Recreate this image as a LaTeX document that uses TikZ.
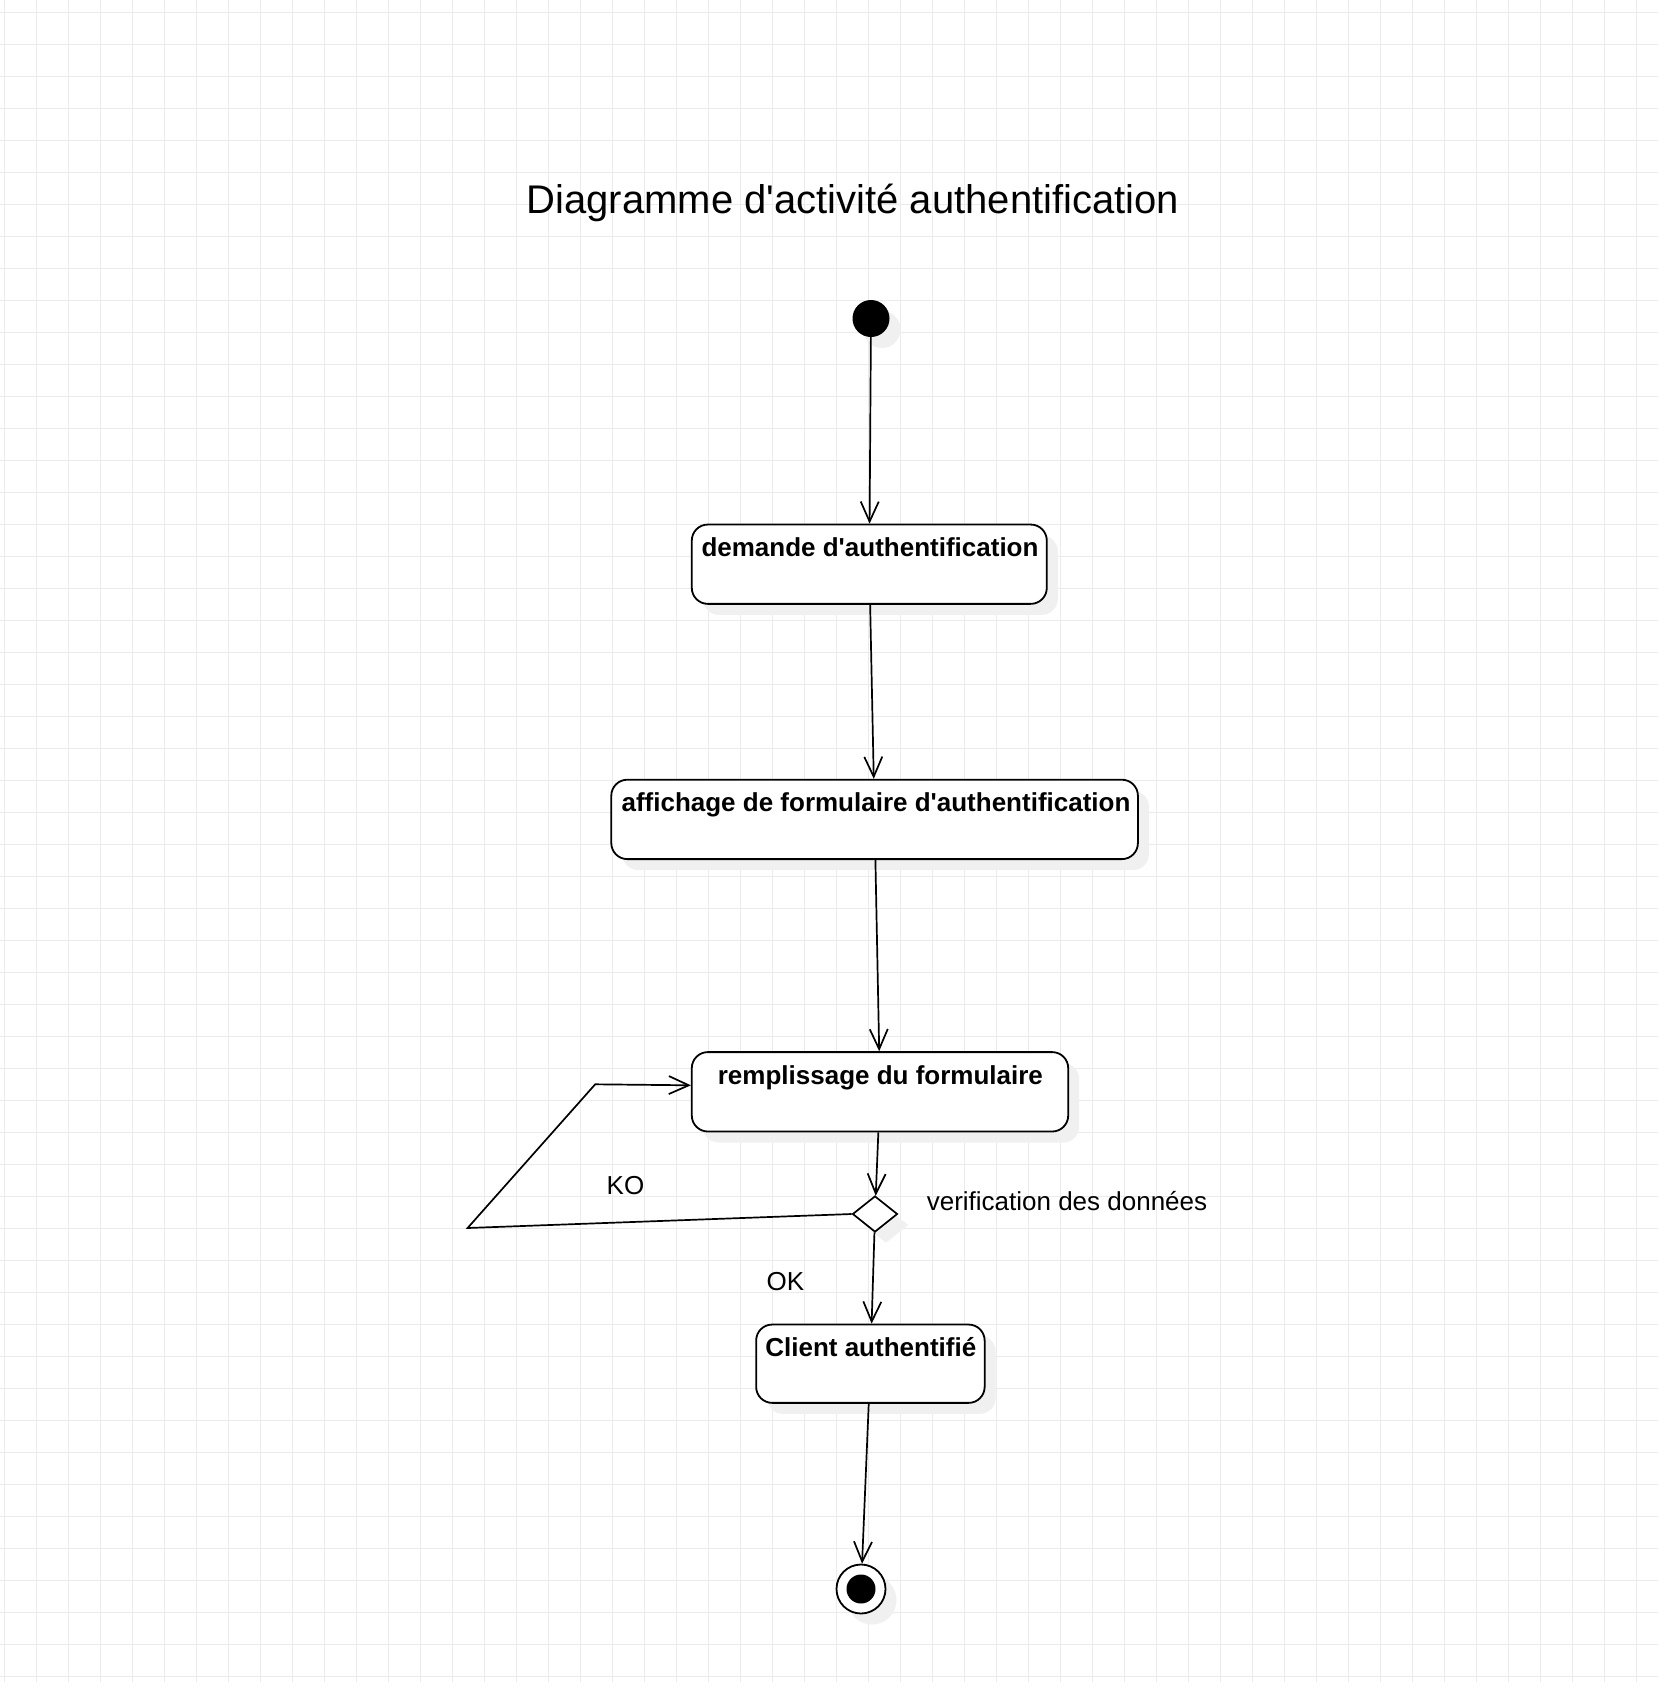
\documentclass[tikz,border=0pt]{standalone}
\usepackage{fontspec}
\setmainfont{Liberation Sans}
\usetikzlibrary{arrows.meta,shapes.geometric,shadows}
\definecolor{gridc}{HTML}{EBEBEB}
\definecolor{shad}{HTML}{F0F0F0}
\newcommand{\apos}{\textquotesingle}
\begin{document}
\begin{tikzpicture}[x=1pt,y=-1pt,
  shd/.style={drop shadow={shadow xshift=11pt, shadow yshift=-11pt, fill=shad, opacity=1}},
  actbox/.style={draw, line width=1.8pt, rounded corners=16pt, fill=white, inner sep=0pt, shd},
  arr/.style={line width=1.7pt, -{Straight Barb[length=20pt,width=18pt,line width=1.7pt]}},
  lbl/.style={font=\fontsize{26}{30}\selectfont, inner sep=0pt},
  blbl/.style={font=\bfseries\fontsize{26}{30}\selectfont, inner sep=0pt, anchor=base},
  ttl/.style={font=\fontsize{40}{46}\selectfont, inner sep=0pt}]
\fill[white] (0,0) rectangle (1658,1682);
\useasboundingbox (0,0) rectangle (1658,1682);
% grid
\begin{scope}[draw=gridc, line width=1pt]
\foreach \gx in {4.3,36.3,...,1658} \draw (\gx,0) -- (\gx,1682);
\foreach \gy in {12.3,44.3,...,1682} \draw (0,\gy) -- (1658,\gy);
\end{scope}
% title
\node[ttl, anchor=base west] (title) at (526.5,213) {Diagramme d\apos activité authentification};
% nodes
\node[circle, fill=black, minimum size=37pt, inner sep=0pt, shd] (init) at (871,318.5) {};
\node[actbox, minimum width=355pt, minimum height=79.3pt] (b1) at (869.3,564.2) {};
\node[blbl] (t1) at (870,556.7) {demande d\apos authentification};
\node[actbox, minimum width=526.6pt, minimum height=79.4pt] (b2) at (874.6,819.4) {};
\node[blbl] (t2) at (876,811.7) {affichage de formulaire d\apos authentification};
\node[actbox, minimum width=376.4pt, minimum height=79.4pt] (b3) at (880,1091.8) {};
\node[blbl] (t3) at (880.4,1084) {remplissage du formulaire};
\node[diamond, draw, fill=white, line width=1.7pt, minimum width=45pt, minimum height=36pt, inner sep=0pt, shd] (d) at (875,1214) {};
\node[actbox, minimum width=228.5pt, minimum height=78.3pt] (b4) at (870.4,1363.7) {};
\node[blbl] (t4) at (870.8,1356.5) {Client authentifié};
\node[circle, draw, line width=1.8pt, fill=white, minimum size=49pt, inner sep=0pt, shd] (fin) at (861,1589) {};
\node[circle, fill=black, minimum size=29pt, inner sep=0pt] (finin) at (fin) {};
% labels
\node[lbl, anchor=base west] (lv) at (926.6,1210.5) {verification des données};
\node[lbl, anchor=base west] (lko) at (606.5,1194.3) {KO};
\node[lbl, anchor=base west] (lok) at (766.5,1290) {OK};
% edges
\draw[arr] (init) -- (b1);
\draw[arr] (b1) -- (b2);
\draw[arr] (b2) -- (b3);
\draw[arr] (b3) -- (d);
\draw[arr] (d) -- (b4);
\draw[arr] (b4) -- (fin);
\coordinate (k1) at (467.6,1228);
\coordinate (k2) at (595.2,1084.3);
\draw[arr] (d.west) -- (k1) -- (k2) -- ([yshift=6.5pt]b3.west);
\end{tikzpicture}
\end{document}
